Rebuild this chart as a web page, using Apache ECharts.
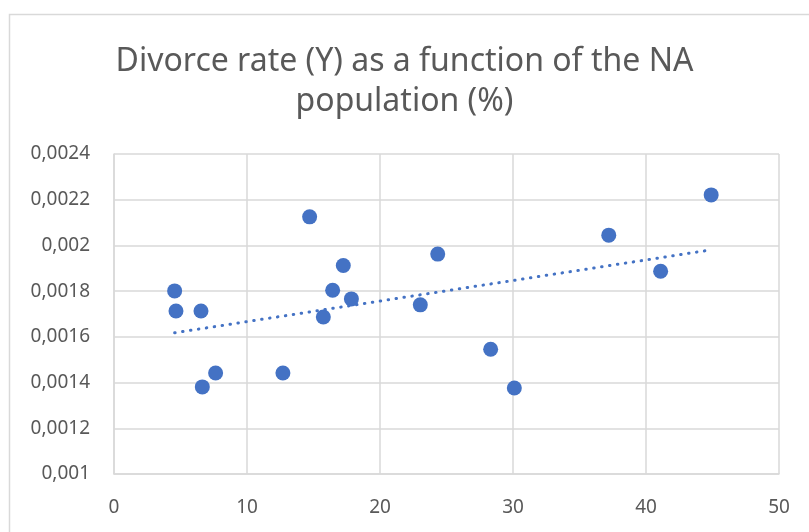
<!DOCTYPE html>
<html>
<head>
<meta charset="utf-8">
<script src="https://cdn.jsdelivr.net/npm/echarts@6/dist/echarts.min.js"></script>
<style>
  html, body { margin: 0; padding: 0; background: #fff; }
  #chart { width: 809px; height: 532px; }
</style>
</head>
<body>
<div id="chart"></div>
<script>
// NA population (%) on x, divorce rate on y
const naPopulation = [4.56, 4.66, 6.54, 6.64, 7.64, 12.7, 14.71, 15.74, 16.44, 17.24, 17.85, 23.03, 24.34, 28.32, 30.1, 37.2, 41.1, 44.9]
const divorceRate = [0.001801, 0.001713, 0.001713, 0.001381, 0.001442, 0.001442, 0.002125, 0.001687, 0.001804, 0.001912, 0.001766, 0.00174, 0.001962, 0.001546, 0.001376, 0.002045, 0.001887, 0.002221]
const xTicks = [0, 10, 20, 30, 40, 50]
const yTicks = [0.001, 0.0012, 0.0014, 0.0016, 0.0018, 0.002, 0.0022, 0.0024]

const titleText = 'Divorce rate (Y) as a function of the NA\npopulation (%)'
const blue = '#4472C4'
const fontFam = 'Noto Sans, sans-serif'

// linear trendline (least squares), drawn over the data's x range
function trend(xs, ys) {
  const n = xs.length
  let sx = 0, sy = 0, sxx = 0, sxy = 0
  for (let i = 0; i < n; i++) {
    sx += xs[i]; sy += ys[i]; sxx += xs[i] * xs[i]; sxy += xs[i] * ys[i]
  }
  const b = (n * sxy - sx * sy) / (n * sxx - sx * sx)
  const a = (sy - b * sx) / n
  const x0 = Math.min(...xs), x1 = Math.max(...xs)
  return [[x0, a + b * x0], [x1, a + b * x1]]
}

const points = naPopulation.map((x, i) => [x, divorceRate[i]])
const chart = echarts.init(document.getElementById('chart'))

const option = {
  animation: false,
  backgroundColor: '#fff',
  graphic: [{
    type: 'rect', left: 7, top: 12, z: -1,
    shape: { width: 820, height: 540 },
    style: { fill: 'none', stroke: '#d9d9d9', lineWidth: 1.5 }
  }],
  title: {
    text: titleText,
    left: 'center',
    top: 37,
    textStyle: { fontFamily: fontFam, fontSize: 32, fontWeight: 'normal', color: '#595959', lineHeight: 40 }
  },
  grid: { left: 114, top: 154, right: 30, bottom: 58 },
  xAxis: {
    type: 'value',
    min: xTicks[0], max: xTicks[xTicks.length - 1], interval: 10,
    axisLine: { show: true, lineStyle: { color: '#d9d9d9', width: 1.5 } },
    axisTick: { show: false },
    splitLine: { show: true, lineStyle: { color: '#d9d9d9', width: 1.5 } },
    axisLabel: { color: '#595959', fontFamily: fontFam, fontSize: 19, margin: 24 }
  },
  yAxis: {
    type: 'value',
    min: yTicks[0], max: yTicks[yTicks.length - 1], interval: 0.0002,
    axisLine: { show: true, lineStyle: { color: '#d9d9d9', width: 1.5 } },
    axisTick: { show: false },
    splitLine: { show: true, lineStyle: { color: '#d9d9d9', width: 1.5 } },
    axisLabel: {
      color: '#595959', fontFamily: fontFam, fontSize: 19, margin: 24,
      formatter: v => String(+v.toFixed(4)).replace('.', ',')
    }
  },
  series: [
    {
      type: 'scatter',
      data: points,
      symbol: 'circle',
      symbolSize: 15,
      itemStyle: { color: blue, opacity: 1 },
      z: 3
    },
    {
      type: 'line',
      data: trend(naPopulation, divorceRate),
      showSymbol: false,
      symbol: 'none',
      lineStyle: { color: blue, width: 3, type: [0.5, 7.5], cap: 'round' },
      z: 4
    }
  ]
}

chart.setOption(option)
</script>
</body>
</html>
